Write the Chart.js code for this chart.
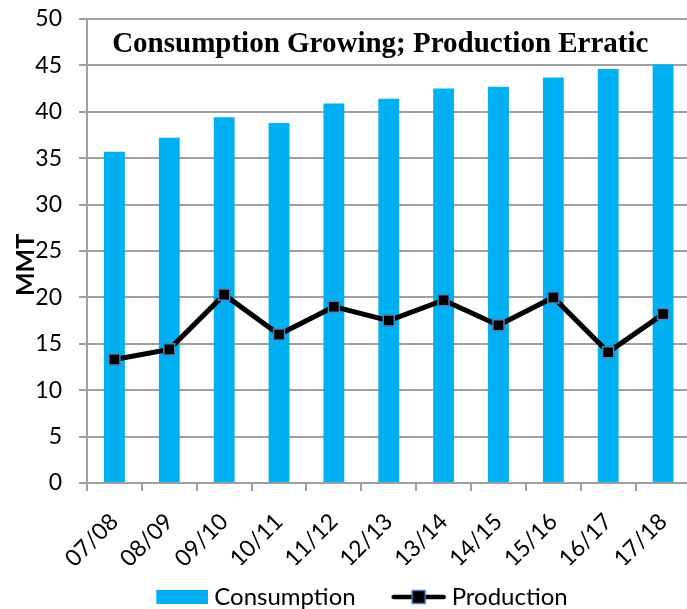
<!DOCTYPE html>
<html><head><meta charset="utf-8">
<script src="https://cdn.jsdelivr.net/npm/chart.js@4/dist/chart.umd.min.js"></script>
<style>
html,body{margin:0;padding:0;overflow:hidden;background:#fff;width:687px;height:609px}
#wrap{position:absolute;left:0;top:0;width:700px;height:619px}
</style>
</head><body><div id="wrap"><canvas id="c"></canvas></div>
<script>
const categories = ['07/08','08/09','09/10','10/11','11/12','12/13','13/14','14/15','15/16','16/17','17/18'];
const consumption = [35.7,37.2,39.4,38.8,40.9,41.4,42.5,42.7,43.7,44.6,45.1];
const production = [13.3,14.4,20.3,16.0,19.0,17.5,19.7,17.0,20.0,14.1,18.2];
const yMin = 0, yMax = 50, yStep = 5;
const seriesNames = ['Consumption','Production'];
const chartTitle = 'Consumption Growing; Production Erratic';
const yAxisTitle = 'MMT';

const BLUE = '#00B0F0';
const GRID = '#A0A0A0';
const MARKER_EDGE = '#4F81BD';

function makeBoxImg(){
  const c = document.createElement('canvas'); c.width = 76; c.height = 14;
  const g = c.getContext('2d'); g.fillStyle = BLUE; g.fillRect(24,0,52,14); return c;
}
function makeLineImg(){
  const c = document.createElement('canvas'); c.width = 78; c.height = 18;
  const g = c.getContext('2d');
  const o = 22;
  g.strokeStyle = '#000'; g.lineWidth = 4.5; g.lineCap = 'round';
  g.beginPath(); g.moveTo(o+3,9); g.lineTo(o+53,9); g.stroke();
  g.fillStyle = '#000'; g.fillRect(o+21.5,2.5,13,13);
  g.strokeStyle = MARKER_EDGE; g.lineWidth = 1.5; g.strokeRect(o+21.5,2.5,13,13);
  return c;
}
const boxImg = makeBoxImg();
const lineImg = makeLineImg();

const textPlugin = {
  id: 'inTitle',
  afterDatasetsDraw(chart){
    const {ctx, chartArea:a} = chart;
    ctx.save();
    ctx.font = 'bold 29px "Liberation Serif"';
    ctx.fillStyle = '#000';
    ctx.textAlign = 'center';
    ctx.textBaseline = 'alphabetic';
    ctx.fillText(chartTitle, a.left + (a.right - a.left) * 0.486, a.top + 33);
    ctx.restore();
  },
  afterDraw(chart){
    const {ctx, chartArea:a} = chart;
    ctx.save();
    ctx.font = 'bold 25px Lato';
    ctx.fillStyle = '#000';
    ctx.textAlign = 'center';
    ctx.textBaseline = 'alphabetic';
    ctx.translate(a.left - 62.5, a.top + (a.bottom - a.top) * 0.53);
    ctx.rotate(-Math.PI / 2);
    ctx.fillText(yAxisTitle, 0, 9);
    ctx.restore();
  }
};

new Chart(document.getElementById('c'), {
  type: 'bar',
  data: {
    labels: categories,
    datasets: [
      { type:'bar', label: seriesNames[0], data: consumption, backgroundColor: BLUE,
        borderWidth: 0, categoryPercentage: 1, barPercentage: 0.38, order: 1 },
      { type:'line', label: seriesNames[1], data: production, borderColor: '#000', borderWidth: 5,
        tension: 0, pointStyle: 'rect', pointRadius: 7.8, pointHoverRadius: 7.8,
        pointBackgroundColor: '#000', pointBorderColor: MARKER_EDGE, pointBorderWidth: 1.5,
        order: 0, clip: false }
    ]
  },
  options: {
    responsive: true, maintainAspectRatio: false, animation: false,
    layout: { padding: { left: 14, right: 8, top: 19, bottom: 0 } },
    plugins: {
      title: { display: false },
      tooltip: { enabled: false },
      legend: {
        position: 'bottom',
        labels: {
          usePointStyle: true, pointStyleWidth: 64, padding: 20,
          color: '#000', font: { family: 'Lato', size: 24 },
          generateLabels(){
            return [
              { text: seriesNames[0], pointStyle: boxImg, fillStyle: BLUE, strokeStyle: BLUE, lineWidth: 0, hidden: false, datasetIndex: 0, fontColor:'#000' },
              { text: seriesNames[1], pointStyle: lineImg, fillStyle: '#000', strokeStyle: '#000', lineWidth: 0, hidden: false, datasetIndex: 1, fontColor:'#000' }
            ];
          }
        }
      }
    },
    scales: {
      x: {
        offset: true,
        grid: { display: true, drawOnChartArea: false, drawTicks: true, tickLength: 8, color: GRID, lineWidth: 2, offset: true },
        border: { display: true, color: GRID, width: 2 },
        ticks: { autoSkip: false, minRotation: 45, maxRotation: 45, padding: 17, color: '#000', font: { family: 'Lato', size: 23 } },
        afterFit(s){ s.height = 82; }
      },
      y: {
        min: yMin, max: yMax,
        grid: { color: GRID, lineWidth: 2, tickLength: 8, drawTicks: true },
        border: { display: true, color: GRID, width: 2 },
        ticks: { stepSize: yStep, padding: 17, color: '#000', font: { family: 'Lato', size: 23 } },
        title: { display: false, text: yAxisTitle },
        afterFit(s){ s.width = 73; s.paddingTop = 0; s.paddingBottom = 0; }
      }
    }
  },
  plugins: [textPlugin]
});
</script>
</body></html>
